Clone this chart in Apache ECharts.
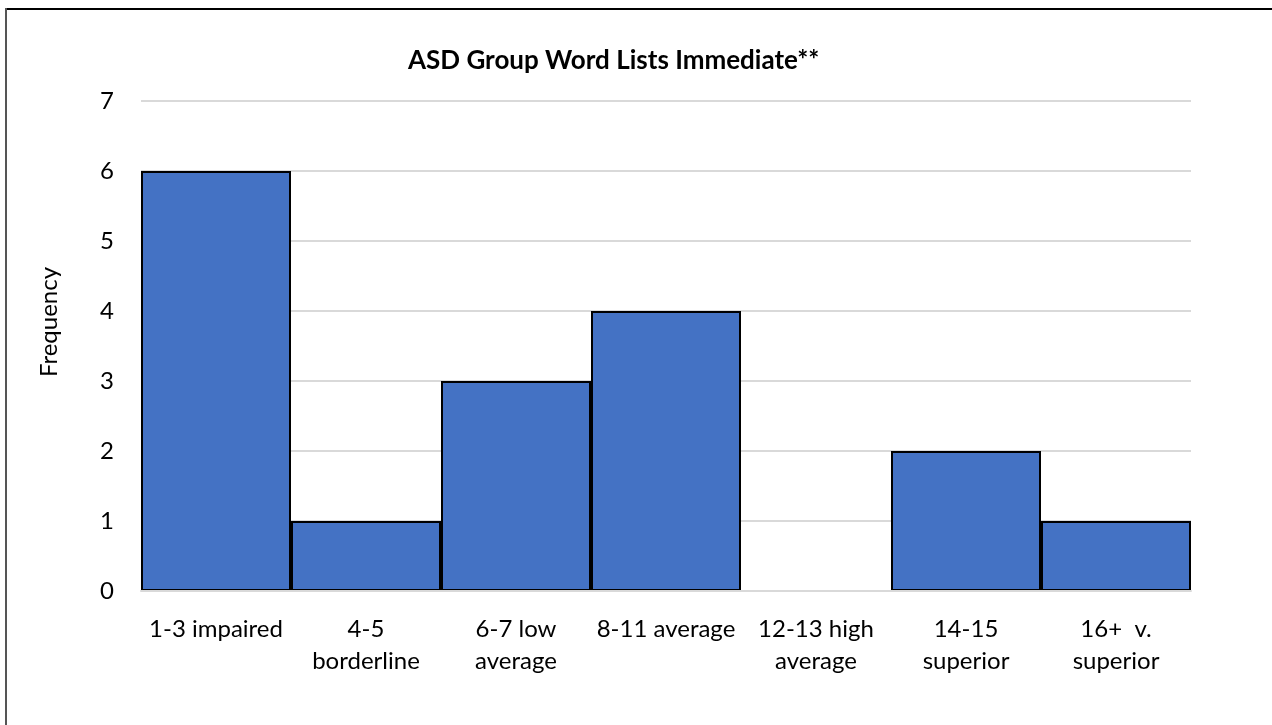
<!DOCTYPE html>
<html>
<head>
<meta charset="utf-8">
<script src="https://cdn.jsdelivr.net/npm/echarts@6/dist/echarts.min.js"></script>
<style>html,body{margin:0;padding:0;background:#fff}#c{width:1272px;height:725px}</style>
</head>
<body>
<div id="c"></div>
<script>
const categories = ['1-3 impaired', '4-5\nborderline', '6-7 low\naverage', '8-11 average', '12-13 high\naverage', '14-15\nsuperior', '16+  v.\nsuperior'];
const frequency = [6, 1, 3, 4, 0, 2, 1];
const yTicks = [0, 1, 2, 3, 4, 5, 6, 7];

const FONT = 'Lato, "Open Sans", sans-serif';
const chart = echarts.init(document.getElementById('c'), null, {renderer: 'canvas'});
chart.setOption({
  backgroundColor: '#fff',
  animation: false,
  title: {
    text: 'ASD Group Word Lists Immediate**',
    left: 403, top: 43,
    textStyle: {fontFamily: FONT, fontSize: 26, fontWeight: 'bold', color: '#000'}
  },
  grid: {left: 141, right: 81, top: 101, bottom: 134, containLabel: false},
  xAxis: {
    type: 'category',
    data: categories,
    z: 5,
    axisLine: {show: true, lineStyle: {color: '#D9D9D9', width: 2}},
    axisTick: {show: false},
    axisLabel: {fontFamily: FONT, fontSize: 24, color: '#000', margin: 22, lineHeight: 32, interval: 0}
  },
  yAxis: {
    type: 'value',
    min: yTicks[0], max: yTicks[yTicks.length - 1], interval: 1,
    name: 'Frequency', nameLocation: 'middle', nameGap: 80, nameRotate: 90,
    nameTextStyle: {fontFamily: FONT, fontSize: 24, color: '#000', padding: [0, 0, 0, 48]},
    axisLine: {show: false}, axisTick: {show: false},
    axisLabel: {fontFamily: FONT, fontSize: 24, color: '#000', margin: 27},
    splitLine: {lineStyle: {color: '#D9D9D9', width: 2}}
  },
  series: [{
    type: 'bar',
    data: frequency,
    barCategoryGap: 0,
    itemStyle: {color: '#4472C4', borderColor: '#000', borderWidth: 2}
  }],
  graphic: [
    {type: 'line', shape: {x1: 6, y1: 9, x2: 1272, y2: 9}, style: {stroke: '#000', lineWidth: 2}},
    {type: 'line', shape: {x1: 6, y1: 8, x2: 6, y2: 725}, style: {stroke: '#555', lineWidth: 2}}
  ]
});
</script>
</body>
</html>
